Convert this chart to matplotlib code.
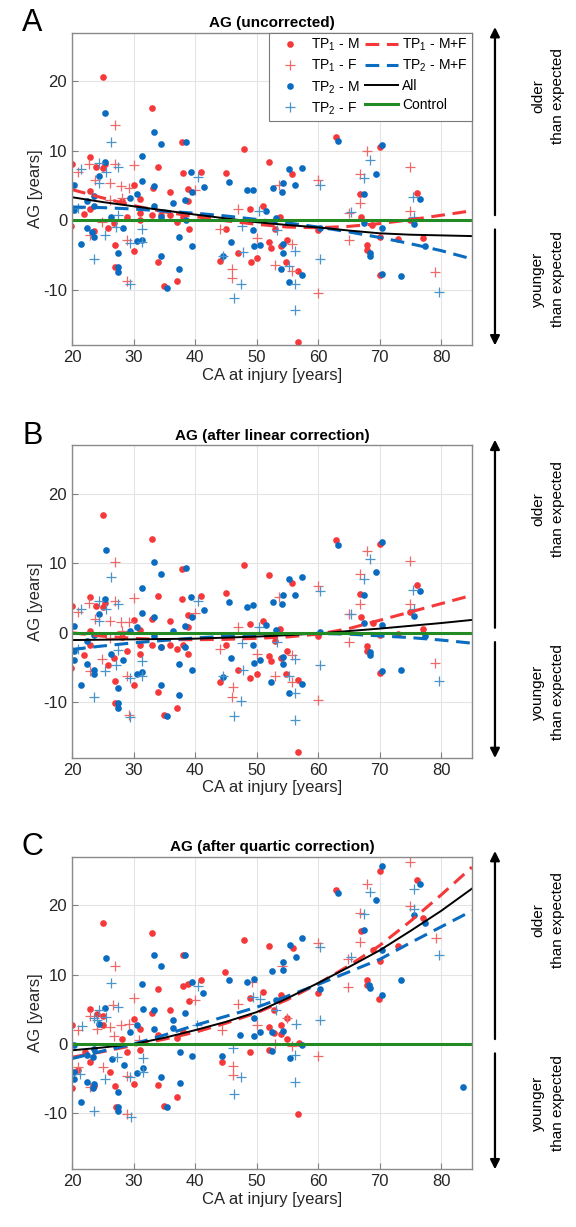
import matplotlib
matplotlib.use("Agg")
import matplotlib.pyplot as plt

plt.rcParams['font.family'] = ['Liberation Sans', 'DejaVu Sans']
plt.rcParams['axes.unicode_minus'] = False

# ---------------------------------------------------------------------------
# Panel A: uncorrected brain age gap
# ---------------------------------------------------------------------------
A_tp1m_x = [25.0, 33.0, 37.9, 48.0, 52.0, 20.05, 22.9, 23.9, 25.0, 25.4, 34.0, 38.0, 41.0, 45.0,
            30.0, 33.1, 36.0, 38.9, 22.9, 31.0, 28.1, 38.9, 49.0, 51.1, 19.9, 23.0, 22.0, 28.9,
            31.0, 31.0, 33.0, 34.5, 35.9, 37.0, 38.1, 39.0, 45.0, 26.9, 19.9, 25.9, 23.5, 27.0,
            30.0, 47.0, 52.0, 52.4, 27.0, 34.0, 44.0, 49.1, 50.0, 35.0, 37.0,
            62.9, 70.0, 55.8, 66.8, 76.0, 74.9, 66.9, 68.8, 59.9, 53.8, 53.0, 70.0, 73.0, 77.0,
            67.9, 67.9, 55.0, 53.9, 54.8, 56.8, 56.8, 70.0]
A_tp1m_y = [20.6, 16.1, 11.2, 10.3, 8.4, 8.1, 9.1, 7.6, 7.5, 8.1, 7.7, 6.8, 6.9, 6.8,
            5.0, 4.6, 4.0, 4.5, 4.2, 3.1, 2.7, 2.7, 1.6, 2.0, 1.6, 1.6, 0.9, 0.4,
            1.0, 0.0, 0.8, 0.8, 0.7, -0.3, 0.4, -1.25, -1.25, -0.4, -0.8, -1.2, -1.6, -3.6,
            -4.5, -4.7, -3.2, -4.0, -6.7, -6.1, -5.9, -6.0, -5.5, -9.5, -8.8,
            12.0, 10.6, 6.7, 3.75, 3.9, 0.05, 0.5, -0.7, -1.4, 0.5, -1.3, -2.5, -2.7, -2.6,
            -3.65, -4.3, -2.8, -3.7, -6.0, -7.3, -17.6, -7.9]

A_tp1f_x = [27.0, 22.8, 20.9, 27.0, 30.0, 40.0, 23.7, 26.1, 28.0, 29.2, 28.2, 26.2, 47.0, 44.0,
            22.9, 28.9, 50.0, 46.0, 46.0, 28.9, 19.8, 24.8,
            67.9, 75.0, 66.8, 60.0, 53.6, 66.8, 74.9, 65.0, 65.0, 55.8, 53.0, 55.8, 60.0, 79.0]
A_tp1f_y = [13.7, 8.1, 7.0, 8.1, 8.0, 4.4, 5.8, 5.3, 4.9, 4.6, 3.2, 2.9, 1.6, -1.3,
            -2.2, -2.8, -2.6, -7.0, -8.4, -8.75, 1.2, -0.2,
            9.9, 7.6, 6.6, 5.8, 5.0, 2.4, 1.25, 1.0, -2.9, -3.5, -6.4, -7.4, -10.5, -7.5]

A_tp2m_x = [25.4, 33.4, 34.4, 38.5, 31.4, 25.4, 39.3, 45.5, 41.5, 31.4, 24.4, 20.4, 33.4, 48.4,
            49.4, 52.6, 39.5, 23.5, 30.5, 29.5, 22.5, 36.4, 38.4, 51.5, 33.4, 20.4, 23.5, 26.4,
            34.4, 38.5, 49.4, 28.3, 22.5, 23.3, 23.5, 21.4, 30.5, 31.4, 27.5, 37.4, 39.5, 45.9,
            49.5, 50.5, 34.4, 44.5, 27.4, 27.4, 37.4, 35.4, 53.9,
            63.3, 70.4, 69.4, 55.2, 57.3, 54.3, 54.2, 56.3, 67.4, 76.6, 75.5, 67.4, 70.4, 60.3,
            53.1, 77.4, 68.4, 68.5, 54.3, 54.3, 57.3, 55.2, 70.4, 73.5]
A_tp2m_y = [15.4, 12.7, 10.9, 11.2, 9.3, 8.4, 7.0, 5.5, 4.8, 5.7, 6.4, 5.1, 4.9, 4.3,
            4.4, 4.6, 4.1, 3.5, 3.8, 3.2, 2.7, 2.4, 2.9, 1.3, 2.1, 1.5, 2.0, 0.4,
            0.4, 0.0, -1.4, -1.2, -1.1, -1.75, -2.5, -3.5, -3.0, -2.8, -4.7, -2.5, -3.7, -3.1,
            -3.8, -3.6, -5.1, -5.2, -6.7, -7.5, -7.0, -9.8, -7.1,
            11.4, 10.8, 6.7, 7.4, 7.5, 5.3, 4.0, 5.1, 3.7, 3.0, -0.5, -0.4, -1.2, -1.1,
            0.3, -3.7, -4.8, -5.2, -3.4, -4.8, -7.9, -8.9, -7.7, -8.0]

A_tp2f_x = [26.4, 21.4, 24.4, 27.5, 25.5, 40.4, 24.4, 20.9, 27.4, 47.6, 50.4, 25.4, 31.4, 29.4,
            31.4, 23.5, 44.5, 47.5, 46.4, 29.5, 27.2, 47.8,
            68.5, 67.5, 60.3, 75.4, 75.5, 65.4, 53.3, 56.3, 55.2, 56.3, 56.2, 60.3, 79.6]
A_tp2f_y = [11.3, 7.4, 8.2, 7.6, 7.0, 6.2, 5.4, 1.8, 0.8, -0.9, 1.3, -2.1, -1.3, -3.3,
            -3.2, -5.6, -5.2, -9.2, -11.2, -9.2, -1.0, -4.6,
            8.6, 6.0, 5.1, 3.3, 0.4, 1.2, -1.4, -4.4, -6.6, -9.2, -13.0, -5.6, -10.4]

# ---------------------------------------------------------------------------
# Panel B: after linear correction
# ---------------------------------------------------------------------------
B_tp1m_x = [25.0, 33.0, 37.9, 48.0, 52.0, 20.0, 22.9, 23.9, 25.0, 25.4, 34.0, 37.9, 41.0, 45.0,
            30.0, 33.0, 36.0, 38.9, 22.9, 31.0, 28.1, 38.9, 49.0, 51.1, 19.9, 22.9, 22.0, 28.9,
            31.0, 31.0, 33.0, 34.5, 36.0, 37.0, 38.1, 38.9, 45.0, 26.9, 19.9, 25.9, 27.0, 30.0,
            47.0, 52.0, 52.4, 27.0, 34.0, 44.1, 49.0, 50.0, 35.0, 37.0,
            62.9, 70.0, 55.8, 66.8, 76.0, 74.9, 66.9, 68.9, 59.9, 53.8, 53.0, 70.0, 73.0, 77.0,
            67.9, 67.9, 55.0, 53.9, 54.8, 56.8, 56.8, 70.0]
B_tp1m_y = [16.9, 13.5, 9.2, 9.7, 8.3, 3.85, 5.2, 3.9, 3.75, 4.3, 5.3, 4.9, 5.3, 5.7,
            1.9, 2.0, 1.7, 2.5, 0.3, 0.4, -0.6, 0.8, 1.2, 1.7, -2.5, -1.7, -3.2, -2.6,
            -1.8, -3.0, -1.8, -2.0, -1.8, -2.4, -1.8, -3.0, -1.8, -3.6, -5.1, -4.7, -6.9, -7.5,
            -5.4, -3.4, -4.1, -10.1, -8.5, -7.1, -6.5, -6.0, -11.8, -10.9,
            13.3, 12.8, 7.1, 5.6, 6.9, 3.0, 2.3, 1.4, -0.5, 0.6, -1.2, -0.3, -0.2, 0.5,
            -1.9, -2.6, -2.6, -3.6, -5.9, -6.8, -17.2, -5.8]

B_tp1f_x = [27.0, 22.8, 20.9, 27.0, 30.0, 40.0, 23.7, 26.1, 28.0, 29.2, 28.2, 26.2, 47.0, 44.0,
            22.9, 28.9, 50.0, 46.2, 46.0, 29.2, 19.8, 24.8,
            67.9, 75.0, 66.8, 60.0, 53.6, 66.8, 74.9, 65.0, 65.0, 55.8, 53.0, 55.8, 60.0, 79.0]
B_tp1f_y = [10.2, 4.3, 3.0, 4.6, 5.0, 2.8, 2.0, 1.7, 1.6, 1.5, 0.2, -0.8, 0.9, -2.4,
            -5.5, -6.3, -3.0, -7.8, -9.2, -11.8, -2.6, -3.8,
            11.8, 10.4, 8.4, 6.8, 5.2, 4.2, 4.1, 2.7, -1.4, -3.2, -6.3, -7.1, -9.7, -4.3]

B_tp2m_x = [25.5, 33.4, 34.4, 38.5, 31.4, 25.4, 39.4, 45.5, 41.5, 31.4, 24.4, 20.4, 33.4, 48.4,
            49.4, 52.6, 39.5, 23.5, 30.5, 29.5, 22.5, 36.4, 38.4, 51.5, 33.4, 20.4, 26.4, 34.4,
            38.4, 49.4, 28.3, 22.5, 23.5, 23.5, 21.4, 30.5, 31.4, 27.5, 37.4, 39.5, 45.9, 49.5,
            50.5, 34.4, 44.5, 27.4, 27.4, 37.4, 35.4, 52.4, 20.4,
            63.3, 70.4, 69.4, 55.2, 57.3, 54.3, 54.2, 56.3, 67.4, 76.6, 75.5, 67.4, 70.4, 60.3,
            53.1, 77.4, 68.4, 68.5, 54.3, 54.3, 57.3, 55.2, 70.4, 73.5]
B_tp2m_y = [11.9, 10.2, 8.5, 9.3, 6.5, 4.8, 5.2, 4.5, 3.3, 2.9, 2.7, 1.0, 2.3, 3.7,
            4.0, 4.5, 2.3, -0.3, 0.8, 0.2, -1.2, 0.2, 1.0, 1.1, -0.5, -2.6, -3.0, -2.0,
            -2.0, -1.8, -3.9, -4.5, -5.3, -5.9, -7.5, -6.0, -5.6, -8.0, -4.5, -5.4, -3.7, -4.3,
            -3.9, -7.5, -6.4, -10.1, -10.8, -9.0, -12.0, -7.1, -3.9,
            12.7, 13.1, 8.8, 7.7, 8.1, 5.5, 4.2, 5.5, 5.5, 6.0, 2.4, 1.4, 1.1, 0.1,
            0.4, -0.5, -2.8, -3.2, -3.5, -4.5, -7.4, -8.65, -5.5, -5.3]

B_tp2f_x = [26.4, 21.4, 24.4, 27.5, 25.5, 40.4, 24.4, 20.9, 27.4, 47.6, 50.4, 25.4, 31.4, 29.4,
            31.4, 23.5, 44.5, 47.5, 46.4, 29.5, 27.2, 47.8,
            68.5, 67.5, 60.3, 75.4, 75.5, 65.4, 53.3, 56.3, 55.2, 56.3, 56.2, 60.3, 79.6]
B_tp2f_y = [8.0, 3.4, 4.6, 4.2, 3.4, 4.6, 1.7, -2.4, -2.5, -1.5, 0.9, -5.5, -4.0, -6.5,
            -6.3, -9.3, -6.3, -9.9, -12.0, -12.2, -4.6, -5.4,
            10.6, 7.8, 6.0, 6.2, 3.4, 2.7, -1.4, -3.85, -6.3, -8.65, -12.5, -4.7, -7.0]

# ---------------------------------------------------------------------------
# Panel C: after quartic correction
# ---------------------------------------------------------------------------
C_tp1m_x = [25.0, 33.0, 38.0, 48.0, 52.0, 44.9, 41.0, 38.9, 38.0, 34.0, 39.0, 51.0, 49.0, 35.9,
            33.0, 30.0, 22.9, 25.1, 24.0, 25.0, 20.0, 31.1, 28.1, 34.0, 37.0, 38.1, 52.0, 52.8,
            22.1, 22.9, 21.0, 20.0, 26.1, 27.0, 30.0, 34.0, 31.1, 29.0, 44.3, 49.0, 52.0, 35.0,
            37.0, 27.1, 23.5,
            55.9, 53.9, 52.8, 54.9, 53.9, 53.9, 55.0, 56.9, 59.9, 67.9, 67.9, 69.9,
            70.0, 76.0, 62.9, 77.0, 66.9, 68.9, 73.0, 70.0, 56.8]
C_tp1m_y = [17.4, 16.0, 12.8, 15.0, 14.2, 10.4, 9.3, 8.6, 8.3, 7.9, 6.25, 7.5, 6.6, 4.9,
            4.5, 3.65, 5.0, 4.0, 4.4, 2.7, 2.7, 2.2, 0.8, 1.3, 0.9, 1.7, 2.5, 1.6,
            -1.15, -2.6, -3.8, -6.3, -4.0, -6.0, -5.7, -5.9, -0.9, -1.15, -2.6, -1.15, -0.9, -8.9,
            -7.6, -9.1, -6.0,
            13.9, 7.0, 4.9, 3.8, 2.7, 1.5, 0.8, 0.15, 7.4, 9.2, 8.5, 6.5,
            25.0, 23.6, 22.2, 18.1, 16.25, 13.6, 14.1, 11.9, -10.1]

C_tp1f_x = [27.0, 30.0, 40.0, 49.2, 47.0, 50.0, 44.3, 22.9, 24.0, 26.1, 27.9, 29.2, 26.7, 21.0,
            26.8, 30.9, 25.1, 29.0, 23.0, 29.0, 20.9, 46.1, 46.1,
            66.8, 59.9, 64.9, 64.9, 54.2, 55.0, 53.0, 55.8, 59.9,
            75.0, 67.9, 66.8, 75.0, 79.1]
C_tp1f_y = [11.3, 6.7, 6.4, 9.0, 5.8, 2.7, 2.0, 4.1, 2.2, 2.45, 2.7, 2.9, 5.6, 2.0,
            1.1, 0.6, -3.3, -4.6, -6.2, -10.1, -3.3, -3.1, -4.4,
            14.7, 14.6, 12.2, 8.2, 11.3, 3.8, 0.0, -0.3, -1.7,
            26.25, 23.0, 18.9, 19.9, 15.3]

C_tp2m_x = [25.5, 33.4, 34.4, 38.4, 31.4, 39.5, 41.3, 45.5, 49.5, 48.4, 52.5, 31.5, 33.4, 38.4,
            36.4, 25.4, 24.4, 30.5, 29.4, 33.4, 36.4, 49.5, 50.5, 52.5, 47.3, 49.5, 20.3, 23.5,
            22.5, 23.4, 26.5, 28.5, 30.5, 31.5, 37.5, 39.5, 44.3, 20.3, 20.4, 22.4, 23.5, 23.4,
            21.4, 27.5, 27.4, 27.5, 34.4, 37.5, 35.4, 52.5,
            57.3, 55.4, 56.4, 54.3, 54.3, 53.1, 60.3, 68.3, 68.4, 54.3, 57.3, 55.4,
            70.4, 76.6, 63.3, 69.4, 75.5, 77.4, 67.4, 70.4, 73.5, 70.4, 83.6]
C_tp2m_y = [12.4, 12.8, 11.25, 12.9, 8.6, 8.9, 7.4, 9.3, 9.4, 8.9, 10.5, 5.0, 4.9, 4.5,
            3.4, 5.2, 2.9, 2.7, 1.7, 2.1, 2.35, 1.1, 1.7, 1.8, 1.25, 3.8, -0.2, -0.7,
            -1.6, -1.9, -2.2, -3.0, -4.1, -3.5, -1.15, -1.7, -1.7, -4.0, -5.0, -5.5, -5.7, -6.4,
            -8.3, -6.9, -9.0, -9.7, -4.8, -5.6, -9.1, -1.05,
            15.3, 14.3, 12.5, 11.8, 10.6, 6.4, 8.0, 8.5, 8.1, 1.9, -0.2, -2.0,
            25.6, 23.1, 21.8, 20.7, 18.6, 17.5, 16.4, 13.5, 9.2, 7.1, -6.2]

C_tp2f_x = [26.4, 40.4, 49.4, 50.5, 21.6, 24.4, 27.5, 25.5, 24.0, 23.5, 40.3, 27.3, 31.5, 21.3,
            25.4, 29.4, 31.5, 23.5, 29.6, 46.2, 47.5, 46.4,
            67.5, 60.3, 65.3, 53.1, 56.4, 60.3, 56.3, 56.3,
            68.5, 75.5, 75.5, 79.6]
C_tp2f_y = [8.8, 8.3, 6.8, 6.5, 2.6, 4.9, 5.3, 3.9, 3.4, 3.8, 2.7, -1.8, -2.0, -4.3,
            -5.1, -4.8, -4.0, -9.6, -10.5, -0.6, -4.8, -7.2,
            18.7, 14.0, 12.5, 4.9, 2.9, 3.4, -1.6, -5.5,
            21.9, 22.3, 19.5, 12.9]

# ---------------------------------------------------------------------------
# Fitted curves, read at these ages
# ---------------------------------------------------------------------------
fit_x = [20, 25, 30, 35, 40, 45, 50, 55, 60, 65, 70, 75, 80, 85]

A_fit_tp1 = [4.4, 3.2, 2.1, 1.2, 0.5, -0.1, -0.6, -1.0, -1.1, -0.9, -0.5, 0.05, 0.7, 1.35]
A_fit_tp2 = [1.9, 1.8, 1.6, 1.3, 1.0, 0.6, 0.1, -0.4, -1.0, -1.7, -2.5, -3.4, -4.4, -5.6]
A_fit_all = [3.3, 2.6, 2.0, 1.4, 0.8, 0.25, -0.3, -0.7, -1.05, -1.5, -1.9, -2.1, -2.2, -2.3]

B_fit_tp1 = [0.0, -0.5, -0.8, -1.0, -1.0, -0.95, -0.8, -0.6, -0.2, 0.6, 1.8, 3.0, 4.2, 5.4]
B_fit_tp2 = [-2.4, -1.9, -1.45, -1.1, -0.75, -0.5, -0.3, -0.15, -0.1, -0.2, -0.45, -0.7, -1.05, -1.5]
B_fit_all = [-1.05, -1.0, -0.95, -0.9, -0.85, -0.7, -0.55, -0.35, -0.1, 0.25, 0.6, 1.0, 1.4, 1.85]

C_fit_tp1 = [-1.9, -1.1, -0.2, 0.7, 1.7, 3.0, 4.5, 6.4, 8.7, 11.3, 14.2, 17.7, 21.5, 25.5]
C_fit_tp2 = [-2.1, -1.0, 0.0, 1.3, 2.7, 4.0, 5.3, 6.9, 8.6, 10.4, 12.2, 14.6, 16.9, 19.2]
C_fit_all = [-0.9, -0.5, 0.0, 0.9, 2.0, 3.2, 4.6, 6.6, 8.8, 11.1, 13.5, 16.3, 19.2, 22.4]

control_x = [20, 85]
control_y = [0, 0]

RED = "#f5383a"
RED_LIGHT = "#ee6a6a"
BLUE = "#0a6cc0"
BLUE_LIGHT = "#4a94cc"
GREEN = "#238b23"

fig = plt.figure(figsize=(5.76, 12.27), dpi=100)


def draw_panel(bottom, letter, title, pts, fits, show_legend):
    ax = fig.add_axes([0.125, bottom, 0.6944, 0.2545])
    (m1x, m1y), (f1x, f1y), (m2x, m2y), (f2x, f2y) = pts
    h1, = ax.plot(m1x, m1y, "o", ms=4.8, color=RED, mec="none", label=r"TP$_{\mathregular{1}}$ - M")
    h2, = ax.plot(f1x, f1y, "+", ms=7, mew=0.9, color=RED_LIGHT, label=r"TP$_{\mathregular{1}}$ - F")
    h3, = ax.plot(m2x, m2y, "o", ms=4.8, color=BLUE, mec="none", label=r"TP$_{\mathregular{2}}$ - M")
    h4, = ax.plot(f2x, f2y, "+", ms=7, mew=0.9, color=BLUE_LIGHT, label=r"TP$_{\mathregular{2}}$ - F")

    h5, = ax.plot(fit_x, fits[0], color=RED, lw=2.2, dashes=(4.5, 2.5),
                  label=r"TP$_{\mathregular{1}}$ - M+F")
    h6, = ax.plot(fit_x, fits[1], color=BLUE, lw=2.2, dashes=(4.5, 2.5),
                  label=r"TP$_{\mathregular{2}}$ - M+F")
    h7, = ax.plot(fit_x, fits[2], color="black", lw=1.4, label="All")
    h8, = ax.plot(control_x, control_y, color=GREEN, lw=2.2, label="Control")

    ax.set_xlim(20, 85)
    ax.set_ylim(-18, 27)
    ax.set_xticks([20, 30, 40, 50, 60, 70, 80])
    ax.set_yticks([-10, 0, 10, 20])
    ax.grid(True, color="#e4e4e4", lw=0.8)
    ax.set_axisbelow(True)
    ax.tick_params(direction="in", length=4, color="#808080", labelsize=12, labelcolor="#262626")
    for s in ax.spines.values():
        s.set_color("#8a8a8a")
        s.set_linewidth(1.0)

    ax.set_xlabel("CA at injury [years]", fontsize=12, color="#262626", labelpad=2)
    ax.set_ylabel("AG [years]", fontsize=12, color="#262626", labelpad=0)
    ax.set_title(title, fontsize=11, fontweight="bold", pad=4)

    if show_legend:
        leg = ax.legend(handles=[h1, h2, h3, h4, h5, h6, h7, h8], loc="upper right", ncol=2,
                        fontsize=10, borderaxespad=0, fancybox=False, framealpha=1,
                        edgecolor="#7a7a7a", handlelength=2.4, handletextpad=0.3,
                        columnspacing=0.4, labelspacing=0.34, borderpad=0.3)
        leg.get_frame().set_linewidth(0.8)

    # "older / younger than expected" arrows to the right of the axes
    ax.annotate("", xy=(1.0575, 1.027), xytext=(1.0575, 0.407), xycoords="axes fraction",
                arrowprops=dict(arrowstyle="-|>", color="black", lw=1.6, mutation_scale=14),
                annotation_clip=False)
    ax.annotate("", xy=(1.0575, -0.01), xytext=(1.0575, 0.379), xycoords="axes fraction",
                arrowprops=dict(arrowstyle="-|>", color="black", lw=1.6, mutation_scale=14),
                annotation_clip=False)
    ax.text(1.19, 0.796, "older\nthan expected", transform=ax.transAxes, rotation=90,
            ha="center", va="center", multialignment="center", fontsize=11, linespacing=1.5)
    ax.text(1.19, 0.21, "younger\nthan expected", transform=ax.transAxes, rotation=90,
            ha="center", va="center", multialignment="center", fontsize=11, linespacing=1.5)

    top = bottom + 0.2545
    fig.text(0.056, top + 0.0012, letter, fontsize=22, ha="center", va="baseline")
    return ax


draw_panel(0.7188, "A", "AG (uncorrected)",
           [(A_tp1m_x, A_tp1m_y), (A_tp1f_x, A_tp1f_y), (A_tp2m_x, A_tp2m_y), (A_tp2f_x, A_tp2f_y)],
           [A_fit_tp1, A_fit_tp2, A_fit_all], True)
draw_panel(0.3825, "B", "AG (after linear correction)",
           [(B_tp1m_x, B_tp1m_y), (B_tp1f_x, B_tp1f_y), (B_tp2m_x, B_tp2m_y), (B_tp2f_x, B_tp2f_y)],
           [B_fit_tp1, B_fit_tp2, B_fit_all], False)
draw_panel(0.0473, "C", "AG (after quartic correction)",
           [(C_tp1m_x, C_tp1m_y), (C_tp1f_x, C_tp1f_y), (C_tp2m_x, C_tp2m_y), (C_tp2f_x, C_tp2f_y)],
           [C_fit_tp1, C_fit_tp2, C_fit_all], False)

fig.savefig("out.png", dpi=100)
